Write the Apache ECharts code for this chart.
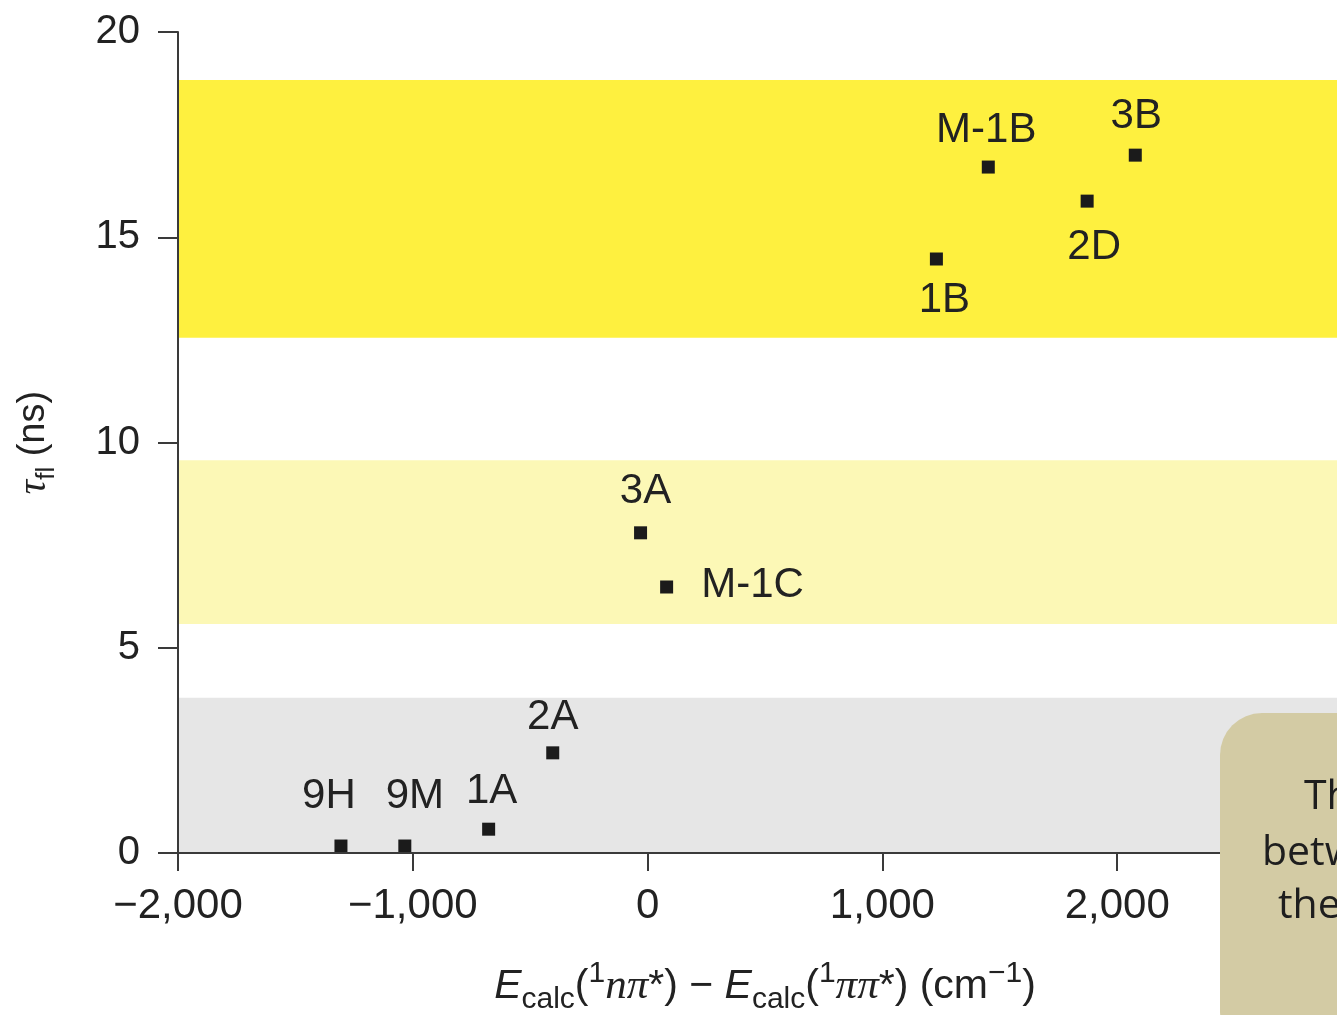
<!DOCTYPE html>
<html>
<head>
<meta charset="utf-8">
<title>Fluorescence lifetime vs. calculated state gap</title>
<script src="https://cdn.jsdelivr.net/npm/echarts@6/dist/echarts.min.js"></script>
<style>
  html, body { margin: 0; padding: 0; background: #ffffff; }
  #chart { width: 1337px; height: 1015px; }
</style>
</head>
<body>
<div id="chart"></div>
<script>
// Compounds, energy gap E(1nπ*) − E(1ππ*) in cm⁻¹ and fluorescence lifetime in ns
const compounds = ['9H', '9M', '1A', '2A', '3A', 'M-1C', '1B', 'M-1B', '2D', '3B'];
const energyGap = [-1306, -1034, -677, -404, -30, 81, 1230, 1451, 1872, 2077];
const lifetime = [0.17, 0.17, 0.58, 2.44, 7.80, 6.48, 14.47, 16.71, 15.88, 17.00];

// Lifetime bands (ns): long, intermediate, short
const bandLong = [12.55, 18.83];
const bandMid = [5.58, 9.57];
const bandShort = [0, 3.78];

// Axis ticks
const xTicks = [-2000, -1000, 0, 1000, 2000, 3000];
const yTicks = [0, 5, 10, 15, 20];

// Label placement around each marker (pixels from the marker centre)
const labelOffsets = [[-12, -50], [10, -50], [3, -38], [0, -35], [5, -41], [86, -2], [8, 41], [-2, -37], [7, 46], [1, -39]];

const FONT = '"Liberation Sans", Arial, Helvetica, sans-serif';
const SERIF = '"Liberation Serif", "Times New Roman", serif';
const AXIS_COLOR = '#3a3a3a';
const TEXT_COLOR = '#222222';
const NOTE_FONT = '41px "Open Sans", Lato, sans-serif';

function fmtTick(v) {
  const s = Math.abs(v).toLocaleString('en-US');
  return v < 0 ? '\u2212' + s : s;
}

const points = compounds.map((name, i) => ({
  name: name,
  value: [energyGap[i], lifetime[i]],
  label: { offset: labelOffsets[i] }
}));

const chart = echarts.init(document.getElementById('chart'), null, { renderer: 'canvas' });

chart.setOption({
  animation: false,
  backgroundColor: '#ffffff',
  grid: { left: 178, top: 32, bottom: 162, right: -15, containLabel: false, outerBoundsMode: 'none' },
  xAxis: [{
    type: 'value',
    z: 10,
    min: xTicks[0],
    max: xTicks[xTicks.length - 1],
    interval: 1000,
    position: 'bottom',
    splitLine: { show: false },
    axisLine: { onZero: false, lineStyle: { color: AXIS_COLOR, width: 2 } },
    axisTick: { inside: false, length: 18, lineStyle: { color: AXIS_COLOR, width: 2 } },
    axisLabel: { formatter: fmtTick, fontFamily: FONT, fontSize: 42, color: TEXT_COLOR, margin: 32 },
    name: '{i|E}{sub|calc}{n|(}{sup|1}{g|nπ}{n|*) − }{i|E}{sub|calc}{n|(}{sup|1}{g|ππ}{n|*) (cm}{sup|−1}{n|)}',
    nameLocation: 'middle',
    nameGap: 106,
    nameTextStyle: {
      fontFamily: FONT, fontSize: 41, color: TEXT_COLOR,
      rich: {
        i: { fontFamily: FONT, fontSize: 41, fontStyle: 'italic', color: TEXT_COLOR, lineHeight: 56, verticalAlign: 'middle' },
        g: { fontFamily: SERIF, fontSize: 43, fontStyle: 'italic', color: TEXT_COLOR, lineHeight: 56, verticalAlign: 'middle' },
        n: { fontFamily: FONT, fontSize: 41, color: TEXT_COLOR, lineHeight: 56, verticalAlign: 'middle' },
        sub: { fontFamily: FONT, fontSize: 30, color: TEXT_COLOR, lineHeight: 30, verticalAlign: 'bottom' },
        sup: { fontFamily: FONT, fontSize: 30, color: TEXT_COLOR, lineHeight: 30, verticalAlign: 'top' }
      }
    }
  }, {
    // plain frame line along the top of the plot
    type: 'value',
    z: 10,
    min: xTicks[0],
    max: xTicks[xTicks.length - 1],
    position: 'top',
    splitLine: { show: false },
    axisLine: { lineStyle: { color: AXIS_COLOR, width: 2 } },
    axisTick: { show: false },
    axisLabel: { show: false }
  }],
  yAxis: {
    type: 'value',
    z: 10,
    min: yTicks[0],
    max: yTicks[yTicks.length - 1],
    interval: 5,
    splitLine: { show: false },
    axisLine: { onZero: false, lineStyle: { color: AXIS_COLOR, width: 2 } },
    axisTick: { inside: false, length: 20, lineStyle: { color: AXIS_COLOR, width: 2 } },
    axisLabel: { fontFamily: FONT, fontSize: 40, color: TEXT_COLOR, margin: 38 },
    name: '{t|τ}{sub|fl}{n| (ns)}',
    nameLocation: 'middle',
    nameGap: 118,
    nameTextStyle: {
      fontFamily: FONT, fontSize: 38, color: TEXT_COLOR,
      rich: {
        t: { fontFamily: SERIF, fontSize: 40, fontStyle: 'italic', color: TEXT_COLOR, lineHeight: 52, verticalAlign: 'middle' },
        n: { fontFamily: FONT, fontSize: 38, color: TEXT_COLOR, lineHeight: 52, verticalAlign: 'middle' },
        sub: { fontFamily: FONT, fontSize: 26, color: TEXT_COLOR, lineHeight: 26, verticalAlign: 'bottom' }
      }
    }
  },
  series: [{
    type: 'scatter',
    xAxisIndex: 0,
    symbol: 'rect',
    symbolSize: 13,
    itemStyle: { color: '#1b1b1b', opacity: 1 },
    label: {
      show: true,
      formatter: '{b}',
      position: 'inside',
      align: 'center',
      verticalAlign: 'middle',
      fontFamily: FONT,
      fontSize: 42,
      color: TEXT_COLOR,
      opacity: 1
    },
    emphasis: { disabled: true },
    markArea: {
      silent: true,
      data: [
        [{ yAxis: bandLong[0], itemStyle: { color: '#fef03f', opacity: 1 } }, { yAxis: bandLong[1] }],
        [{ yAxis: bandMid[0], itemStyle: { color: '#fcf8b6', opacity: 1 } }, { yAxis: bandMid[1] }],
        [{ yAxis: bandShort[0], itemStyle: { color: '#e6e6e6', opacity: 1 } }, { yAxis: bandShort[1] }]
      ]
    },
    data: points,
    z: 3
  }],
  graphic: [{
    type: 'group',
    left: 1220,
    top: 713,
    z: 100,
    children: [{
      type: 'rect',
      z: 100,
      shape: { x: 0, y: 0, width: 320, height: 340, r: 42 },
      style: { fill: '#d3cba4' }
    }, {
      type: 'text',
      z: 101,
      x: 84, y: 84,
      style: { text: 'The', font: NOTE_FONT, fill: '#1e1e1e', textVerticalAlign: 'middle' }
    }, {
      type: 'text',
      z: 101,
      x: 42, y: 140,
      style: { text: 'between', font: NOTE_FONT, fill: '#1e1e1e', textVerticalAlign: 'middle' }
    }, {
      type: 'text',
      z: 101,
      x: 58, y: 193,
      style: { text: 'the', font: NOTE_FONT, fill: '#1e1e1e', textVerticalAlign: 'middle' }
    }]
  }]
});
</script>
</body>
</html>
